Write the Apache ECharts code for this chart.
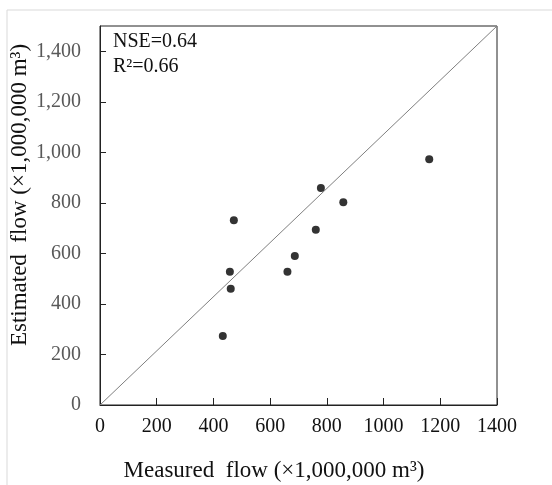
<!DOCTYPE html>
<html>
<head>
<meta charset="utf-8">
<script src="https://cdn.jsdelivr.net/npm/echarts@6/dist/echarts.min.js"></script>
<style>
html,body{margin:0;padding:0;background:#fff;}
#chart{width:552px;height:485px;}
</style>
</head>
<body>
<div id="chart"></div>
<script>
var measured = [433, 458, 461, 472, 661, 687, 761, 779, 858, 1161];
var estimated = [273, 527, 460, 731, 527, 590, 694, 859, 802, 973];
var diagonalX = [0, 1400];
var diagonalY = [0, 1500];
var xTitle = 'Measured  flow (\u00d71,000,000 m\u00b3)';
var yTitle = 'Estimated  flow (\u00d71,000,000 m\u00b3)';
var statsLines = ['NSE=0.64', 'R\u00b2=0.66'];

var FONT = '"Liberation Serif", "Times New Roman", serif';
var chart = echarts.init(document.getElementById('chart'), null, {renderer: 'canvas'});

var points = measured.map(function (x, i) { return [x, estimated[i]]; });
var diag = diagonalX.map(function (x, i) { return [x, diagonalY[i]]; });

chart.setOption({
  animation: false,
  backgroundColor: '#fff',
  grid: {
    left: 100, top: 26, width: 397, height: 379,
    show: true, borderColor: '#222', borderWidth: 1, containLabel: false
  },
  xAxis: {
    type: 'value', min: 0, max: 1400, interval: 200,
    axisLine: {show: true, lineStyle: {color: '#222', width: 1}},
    axisTick: {show: true, inside: true, length: 7, lineStyle: {color: '#222'}},
    splitLine: {show: false},
    axisLabel: {color: '#111', fontFamily: FONT, fontSize: 20, margin: 12,
      formatter: function (v) { return String(v); }}
  },
  yAxis: {
    type: 'value', min: 0, max: 1500, interval: 200,
    axisLine: {show: true, lineStyle: {color: '#222', width: 1}},
    axisTick: {show: true, inside: true, length: 6, lineStyle: {color: '#222'}},
    splitLine: {show: false},
    axisLabel: {
      color: '#595959', fontFamily: FONT, fontSize: 20, margin: 19, showMaxLabel: false,
      formatter: function (v) { return v === 1500 ? '' : v.toLocaleString('en-US'); }
    }
  },
  series: [
    {
      type: 'line', data: diag, symbol: 'none', silent: true,
      lineStyle: {color: '#7f7f7f', width: 1}
    },
    {
      type: 'scatter', data: points, symbol: 'circle', symbolSize: 8,
      itemStyle: {color: '#000'}
    }
  ],
  graphic: [
    {type: 'line', shape: {x1: 7, y1: 10, x2: 552, y2: 10}, style: {stroke: '#d9d9d9', lineWidth: 1}, silent: true},
    {type: 'line', shape: {x1: 7, y1: 10, x2: 7, y2: 485}, style: {stroke: '#d9d9d9', lineWidth: 1}, silent: true},
    {type: 'text', left: 113, top: 32, style: {text: statsLines[0], font: '20px ' + FONT, fill: '#111'}},
    {type: 'text', left: 113, top: 57, style: {text: statsLines[1], font: '20px ' + FONT, fill: '#111'}},
    {type: 'text', x: 274, y: 471, style: {text: xTitle, font: '23px ' + FONT, fill: '#111', align: 'center', verticalAlign: 'middle'}},
    {type: 'text', x: 20, y: 195, rotation: Math.PI / 2, style: {text: yTitle, font: '23px ' + FONT, fill: '#111', align: 'center', verticalAlign: 'middle'}}
  ]
});
</script>
</body>
</html>
